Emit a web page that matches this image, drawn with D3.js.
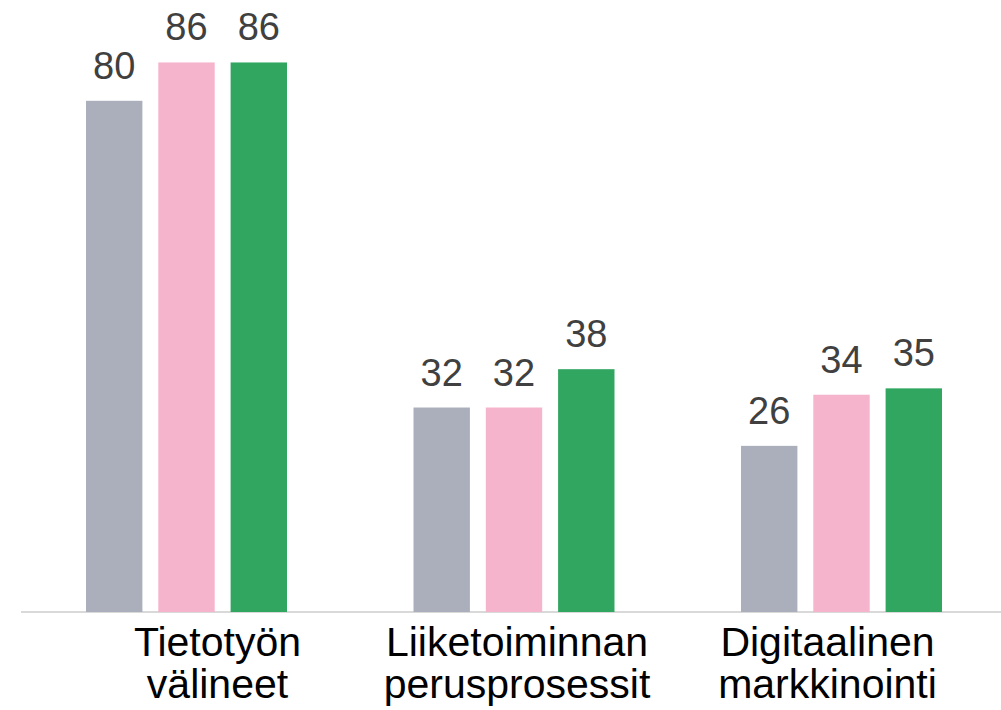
<!DOCTYPE html>
<html>
<head>
<meta charset="utf-8">
<script src="https://cdn.jsdelivr.net/npm/d3@7"></script>
<style>
  html, body { margin: 0; padding: 0; background: #fff; }
  svg { display: block; font-family: "Liberation Sans", Arial, sans-serif; }
</style>
</head>
<body>
<div id="chart"></div>
<script>
// ---- data ----
const categories = [["Tietotyön", "välineet"], ["Liiketoiminnan", "perusprosessit"], ["Digitaalinen", "markkinointi"]];
const seriesNames = ["A", "B", "C"];
const seriesA = [80, 32, 26];
const seriesB = [86, 32, 34];
const seriesC = [86, 38, 35];
const colors = ["#abafbc", "#f6b3cc", "#31a660"];
// label horizontal nudges (layout style)
const labelNudge = [31, 3, -14];

// ---- layout ----
const W = 1001, H = 710;
const baseY = 612;

const svg = d3.select("#chart").append("svg").attr("width", W).attr("height", H);

const x0 = d3.scaleBand().domain(d3.range(categories.length)).range([22.75, 1005.25]).padding(0);
const x1 = d3.scaleBand().domain(seriesNames).range([0, x0.bandwidth()]).paddingInner(0.22).paddingOuter(0.875);
const y = d3.scaleLinear().domain([0, 100]).range([baseY, baseY - 639]);

const table = categories.map((c, i) => ({
  i,
  values: [seriesA[i], seriesB[i], seriesC[i]].map((v, k) => ({ s: seriesNames[k], v, k }))
}));

// axis line
svg.append("line")
  .attr("x1", 21).attr("x2", W)
  .attr("y1", baseY).attr("y2", baseY)
  .attr("stroke", "#d9d9d9").attr("stroke-width", 2);

const g = svg.selectAll("g.grp").data(table).enter().append("g")
  .attr("class", "grp")
  .attr("transform", d => `translate(${x0(d.i)},0)`);

g.selectAll("rect").data(d => d.values).enter().append("rect")
  .attr("x", d => x1(d.s))
  .attr("width", x1.bandwidth())
  .attr("y", d => y(d.v))
  .attr("height", d => y(0) - y(d.v))
  .attr("fill", d => colors[d.k]);

g.selectAll("text.val").data(d => d.values).enter().append("text")
  .attr("class", "val")
  .attr("x", d => x1(d.s) + x1.bandwidth() / 2)
  .attr("y", d => y(d.v) - 22)
  .attr("text-anchor", "middle")
  .attr("font-size", 38)
  .attr("fill", "#404040")
  .text(d => d.v);

// category labels
const lab = svg.selectAll("text.cat").data(categories).enter().append("text")
  .attr("class", "cat")
  .attr("text-anchor", "middle")
  .attr("font-size", 41)
  .attr("fill", "#000");
lab.each(function(lines, i) {
  const cx = x0(i) + x0.bandwidth() / 2 + labelNudge[i];
  d3.select(this).selectAll("tspan").data(lines).enter().append("tspan")
    .attr("x", cx)
    .attr("y", (d, j) => 656 + j * 42)
    .text(d => d);
});
</script>
</body>
</html>
